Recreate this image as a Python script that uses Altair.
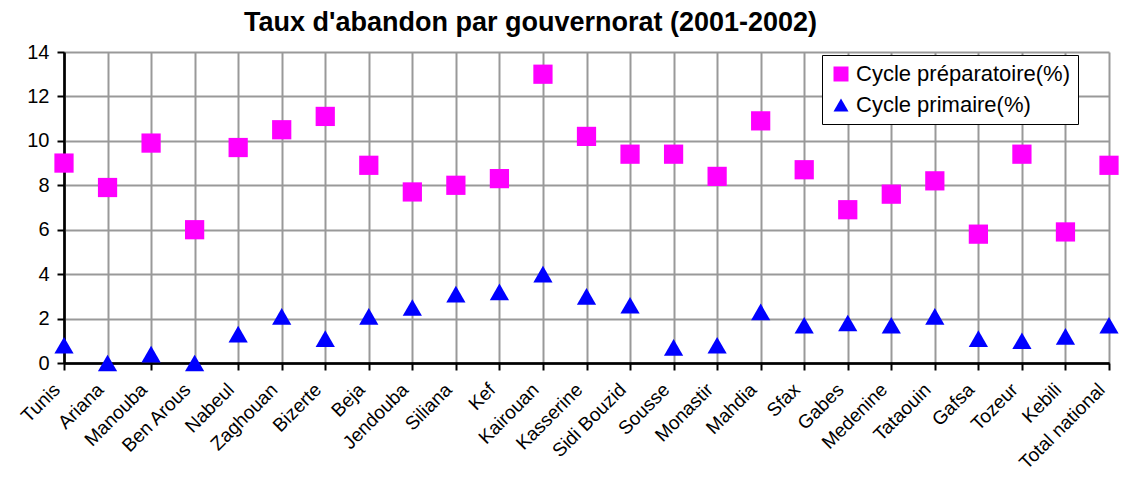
import altair as alt
import pandas as pd

regions = ["Tunis", "Ariana", "Manouba", "Ben Arous", "Nabeul", "Zaghouan", "Bizerte",
           "Beja", "Jendouba", "Siliana", "Kef", "Kairouan", "Kasserine", "Sidi Bouzid",
           "Sousse", "Monastir", "Mahdia", "Sfax", "Gabes", "Medenine", "Tataouin",
           "Gafsa", "Tozeur", "Kebili", "Total national"]
preparatoire = [9.0, 7.9, 9.9, 6.0, 9.7, 10.5, 11.1, 8.9, 7.7, 8.0, 8.3, 13.0, 10.2, 9.4,
                9.4, 8.4, 10.9, 8.7, 6.9, 7.6, 8.2, 5.8, 9.4, 5.9, 8.9]
primaire = [0.8, 0.0, 0.4, 0.0, 1.3, 2.1, 1.1, 2.1, 2.5, 3.1, 3.2, 4.0, 3.0, 2.6,
            0.7, 0.8, 2.3, 1.7, 1.8, 1.7, 2.1, 1.1, 1.0, 1.2, 1.7]
series = ["Cycle préparatoire(%)", "Cycle primaire(%)"]
y_ticks = [0, 2, 4, 6, 8, 10, 12, 14]

rows = []
for name, values in zip(series, [preparatoire, primaire]):
    for r, v in zip(regions, values):
        rows.append({"Gouvernorat": r, "Série": name, "Valeur": v})
df = pd.DataFrame(rows)

FONT = "Liberation Sans"
legend = alt.Legend(
    title=None, orient="none", legendX=758, legendY=3,
    fillColor="white", strokeColor="black", padding=8,
    labelFontSize=22, labelFont=FONT, labelColor="black", labelOffset=4,
    labelLimit=0,
    symbolSize=225, rowPadding=9, symbolStrokeWidth=0,
)

chart = alt.Chart(df).mark_point(filled=True, opacity=1, size=370).encode(
    x=alt.X("Gouvernorat:N", sort=regions,
            scale=alt.Scale(type="point", padding=0),
            axis=alt.Axis(title=None, labelAngle=-45, labelFontSize=19, labelFont=FONT,
                          labelColor="black", labelPadding=10, labelOffset=-14,
                          grid=True,
                          gridColor=alt.condition("datum.value === 'Tunis'", alt.value("black"), alt.value("#999999")),
                          gridWidth=2,
                          domainColor="black", domainWidth=2.5,
                          tickColor="black", tickWidth=2, tickSize=7)),
    y=alt.Y("Valeur:Q", scale=alt.Scale(domain=[0, 14], nice=False),
            axis=alt.Axis(title=None, values=y_ticks, labelFontSize=20, labelFont=FONT,
                          labelColor="black", labelPadding=8,
                          grid=True,
                          gridColor=alt.condition("datum.value === 0", alt.value("black"), alt.value("#999999")),
                          gridWidth=2,
                          domainColor="black", domainWidth=2.5,
                          tickColor="black", tickWidth=2, tickSize=7)),
    color=alt.Color("Série:N", sort=series,
                    scale=alt.Scale(domain=series, range=["#FF00FF", "#0000FF"]),
                    legend=legend),
    shape=alt.Shape("Série:N", sort=series,
                    scale=alt.Scale(domain=series, range=["square", "triangle-up"]),
                    legend=legend),
).properties(
    width=1045, height=311,
    autosize=alt.AutoSizeParams(type="none"),
    padding={"left": 56, "top": 44, "right": 10, "bottom": 110},
    title=alt.Title("Taux d'abandon par gouvernorat (2001-2002)", fontSize=27,
                    font=FONT, fontWeight="bold", color="black", dx=-56, offset=5),
).configure_view(stroke=None).configure_legend(labelFontSize=22, labelFont=FONT, labelLimit=0)

chart.save("out.html", embed_options={"renderer": "svg", "actions": False})
